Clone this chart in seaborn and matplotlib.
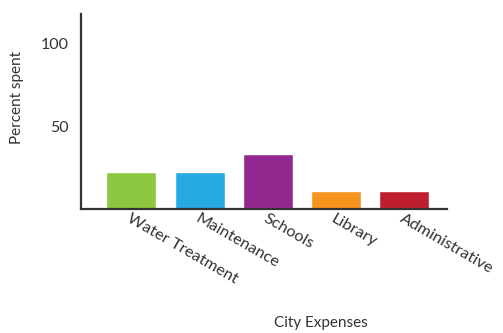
import matplotlib
matplotlib.use("Agg")
import matplotlib.pyplot as plt
import seaborn as sns
import pandas as pd

categories = ["Water Treatment", "Maintenance", "Schools", "Library", "Administrative"]
values = [22, 22, 33, 11, 11]
colors = ["#8DC63F", "#27AAE1", "#92278F", "#F7941D", "#BE1E2D"]
yticks = [50, 100]

sns.set_theme(style="white")
plt.rcParams["font.family"] = ["Lato", "DejaVu Sans"]

fig = plt.figure(figsize=(5.03, 3.33), dpi=100)
ax = fig.add_axes([81 / 503, 1 - 209 / 333, 366 / 503, 195 / 333])

df = pd.DataFrame({"cat": categories, "val": values})
sns.barplot(data=df, x="cat", y="val", hue="cat", palette=colors, legend=False,
            width=0.735, saturation=1, ax=ax)

ax.set_xlim(-0.74, 4.63)
ax.set_ylim(0, 117.5)
ax.set_yticks(yticks)
ax.set_yticklabels([str(t) for t in yticks], fontsize=11.5, color="#333333")
ax.tick_params(axis="y", direction="inout", length=8, width=1.3, color="#333333", pad=5)
ax.tick_params(axis="x", length=0, pad=2)
ax.set_xticks(range(len(categories)))
ax.set_xticklabels(categories, rotation=-30, ha="left", va="top",
                   rotation_mode="anchor", fontsize=11.8, color="#333333")

for s in ["top", "right"]:
    ax.spines[s].set_visible(False)
for s in ["left", "bottom"]:
    ax.spines[s].set_color("#333333")
    ax.spines[s].set_linewidth(1.6)

ax.set_xlabel("City Expenses", fontsize=11, color="#333333", va="center")
ax.xaxis.set_label_coords((321 - 81) / 366, -(323 - 209) / 195)
ax.set_ylabel("Percent spent", fontsize=11, color="#333333", va="center")
ax.yaxis.set_label_coords(-(81 - 17) / 366, (209 - 98) / 195)

fig.savefig("out.png", dpi=100)
